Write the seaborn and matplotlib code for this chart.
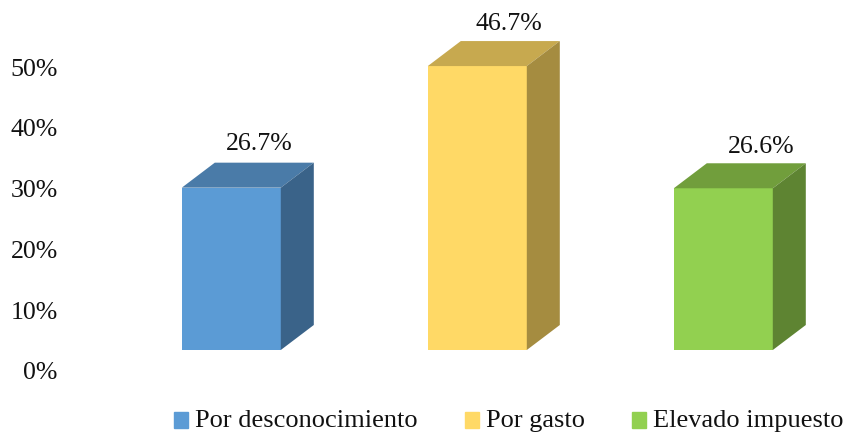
import matplotlib
matplotlib.use('Agg')
import matplotlib.pyplot as plt
import pandas as pd
import seaborn as sns
from matplotlib.patches import Patch, Polygon

categorias = ['Por desconocimiento', 'Por gasto', 'Elevado impuesto']
valores = [26.7, 46.7, 26.6]
etiquetas = ['26.7%', '46.7%', '26.6%']
ticks = [0, 10, 20, 30, 40, 50]
colores = ['#5B9BD5', '#FFD966', '#92D050']
colores_techo = ['#4A7BA8', '#C7A94F', '#719E3C']
colores_lado = ['#3A6389', '#A58C40', '#5E8432']

W, H = 845, 435
sns.set_theme(style='white')
plt.rcParams['font.family'] = ['Liberation Serif', 'DejaVu Serif']

fig = plt.figure(figsize=(W / 100, H / 100), dpi=100)
ax = fig.add_axes([62 / W, 0, 1 - 62 / W, 1])

# escala: 6.08 px por 1%, el 0% queda en y=371 px
px_y = 6.08
px_x = 246.0

# la base de las barras esta 20 px encima del 0%
base = 20 / px_y
df = pd.DataFrame({'categoria': categorias, 'valor': valores})
sns.barplot(data=df, x='categoria', y='valor', hue='categoria', palette=colores,
            width=99 / px_x, bottom=base, saturation=1, legend=False, linewidth=0, ax=ax)

ax.set_ylim(-(H - 371) / px_y, 371 / px_y)
ax.set_xlim((62 - 231.3) / px_x, (W - 231.3) / px_x)

barras = list(ax.patches)

# caras del efecto 3D
dx = 33 / px_x
dy = 25 / px_y
for i, bar in enumerate(barras):
    x0, x1 = bar.get_x(), bar.get_x() + bar.get_width()
    y0, y1 = bar.get_y(), bar.get_y() + bar.get_height()
    ax.add_patch(Polygon([(x0, y1), (x1, y1), (x1 + dx, y1 + dy), (x0 + dx, y1 + dy)],
                         color=colores_techo[i], lw=0))
    ax.add_patch(Polygon([(x1, y0), (x1 + dx, y0 + dy), (x1 + dx, y1 + dy), (x1, y1)],
                         color=colores_lado[i], lw=0))

offsets = [28, 32, 38]
altos = [45, 43, 42]
for i, bar in enumerate(barras):
    ax.annotate(etiquetas[i], (bar.get_x() + bar.get_width() / 2, bar.get_y() + bar.get_height()),
                xytext=(offsets[i] * 0.72, altos[i] * 0.72), textcoords='offset points',
                ha='center', va='center', fontsize=18.6, color='#111111')

ax.set_yticks(ticks)
ax.set_yticklabels([f'{t}%' for t in ticks], fontsize=18.6, color='#111111')
ax.tick_params(axis='y', length=0, pad=3)
ax.set_xticks([])
ax.set_xlabel('')
ax.set_ylabel('')
sns.despine(ax=ax, left=True, bottom=True)

handles = [Patch(color=c, label=n) for c, n in zip(colores, categorias)]
leyenda = fig.legend(handles=handles, ncol=3, loc='center', bbox_to_anchor=(509 / W, 1 - 421 / H),
                     frameon=False, fontsize=19, handlelength=0.52, handleheight=0.52,
                     handletextpad=0.27, columnspacing=1.8, labelcolor='#111111')
# los cuadritos van un poco mas abajo que en matplotlib
for p in leyenda.get_patches():
    p.set_y(p.get_y() - 2.5)

fig.savefig('out.png', dpi=100)
